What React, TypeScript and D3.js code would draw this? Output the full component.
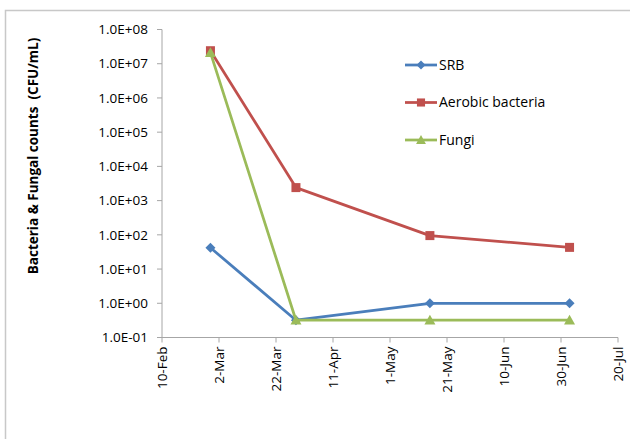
import * as d3 from "d3";

const sampleDates = ["2015-02-27", "2015-03-29", "2015-05-15", "2015-07-03"];
const srbCounts = [42, 0.32, 1.0, 1.0];
const aerobicCounts = [2.4e7, 2.4e3, 95, 43];
const fungiCounts = [2.1e7, 0.32, 0.32, 0.32];
const seriesNames = ["SRB", "Aerobic bacteria", "Fungi"];
const seriesColors = ["#4A7EBB", "#C0504D", "#9BBB59"];
const xTickDates = ["2015-02-10", "2015-03-02", "2015-03-22", "2015-04-11", "2015-05-01", "2015-05-21", "2015-06-10", "2015-06-30", "2015-07-20"];
const yTickValues = [1e-1, 1, 1e1, 1e2, 1e3, 1e4, 1e5, 1e6, 1e7, 1e8];

const W = 630;
const H = 439;
const plot = { left: 162, right: 618, top: 29.5, bottom: 337.5 };
const font = "'Open Sans', Lato, sans-serif";
const axisColor = "#A6A6A6";

const parse = d3.timeParse("%Y-%m-%d");

export default function App() {
  const x = d3.scaleTime()
    .domain([parse(xTickDates[0])!, parse(xTickDates[xTickDates.length - 1])!])
    .range([plot.left, plot.right]);
  const y = d3.scaleLog().domain([1e-1, 1e8]).range([plot.bottom, plot.top]);
  const fmtX = d3.timeFormat("%-d-%b");
  const fmtY = (v: number) => {
    const e = Math.round(Math.log10(v));
    return `1.0E${e < 0 ? "-" : "+"}${String(Math.abs(e)).padStart(2, "0")}`;
  };

  const dates = sampleDates.map((d) => parse(d)!);
  const allSeries = [srbCounts, aerobicCounts, fungiCounts];
  const line = d3.line<[Date, number]>().x((d) => x(d[0])).y((d) => y(d[1]));

  const marker = (i: number, cx: number, cy: number, key: string, scale = 1) => {
    const c = seriesColors[i];
    if (i === 0) {
      const r = 5 * scale;
      return <path key={key} d={`M${cx},${cy - r}L${cx + r},${cy}L${cx},${cy + r}L${cx - r},${cy}Z`} fill={c} />;
    }
    if (i === 1) {
      const s = 9 * scale;
      return <rect key={key} x={cx - s / 2} y={cy - s / 2} width={s} height={s} fill={c} />;
    }
    const s = 5.5 * scale;
    return <path key={key} d={`M${cx},${cy - s}L${cx + s},${cy + s * 0.8}L${cx - s},${cy + s * 0.8}Z`} fill={c} />;
  };

  return (
    <div style={{ position: "fixed", left: 0, top: 0 }}>
      <svg width={W} height={H} style={{ display: "block", background: "#fff" }}>
        <rect x={5.5} y={10.5} width={W} height={H} fill="#fff" stroke="#C8C8C8" strokeWidth={1.5} />

        {/* y axis */}
        <line x1={plot.left} x2={plot.left} y1={plot.top} y2={plot.bottom} stroke={axisColor} />
        {yTickValues.map((v) => (
          <g key={v}>
            <line x1={plot.left - 5} x2={plot.left} y1={y(v)} y2={y(v)} stroke={axisColor} />
            <text x={plot.left - 14} y={y(v)} dy="0.35em" textAnchor="end" fontFamily={font} fontSize={13.5} fill="#000">
              {fmtY(v)}
            </text>
          </g>
        ))}
        <text
          transform={`translate(33,156) rotate(-90)`}
          dy="0.35em" textAnchor="middle" fontFamily={font} fontSize={13.5} fontWeight="bold" fill="#000"
          xmlSpace="preserve"
        >
          {"Bacteria & Fungal counts  (CFU/mL)"}
        </text>

        {/* x axis */}
        <line x1={plot.left} x2={plot.right} y1={plot.bottom} y2={plot.bottom} stroke={axisColor} />
        {xTickDates.map((d) => {
          const px = x(parse(d)!);
          return (
            <g key={d}>
              <line x1={px} x2={px} y1={plot.bottom} y2={plot.bottom + 5} stroke={axisColor} />
              <text
                transform={`translate(${px},${plot.bottom + 9}) rotate(-90)`}
                dy="0.35em" textAnchor="end" fontFamily={font} fontSize={13.5} fill="#000"
              >
                {fmtX(parse(d)!)}
              </text>
            </g>
          );
        })}

        {/* series */}
        {allSeries.map((vals, i) => (
          <g key={seriesNames[i]}>
            <path
              d={line(dates.map((dt, j) => [dt, vals[j]] as [Date, number])) || ""}
              fill="none" stroke={seriesColors[i]} strokeWidth={2.75} strokeLinejoin="round"
            />
            {vals.map((v, j) => marker(i, x(dates[j]), y(v), `${i}-${j}`))}
          </g>
        ))}

        {/* legend */}
        {seriesNames.map((name, i) => {
          const ly = 65 + i * 37.5;
          return (
            <g key={name}>
              <line x1={405} x2={437} y1={ly} y2={ly} stroke={seriesColors[i]} strokeWidth={2.75} />
              {marker(i, 421, ly, `lg-${i}`, 0.9)}
              <text x={439} y={ly} dy="0.35em" fontFamily={font} fontSize={14} fill="#000">{name}</text>
            </g>
          );
        })}
      </svg>
    </div>
  );
}
